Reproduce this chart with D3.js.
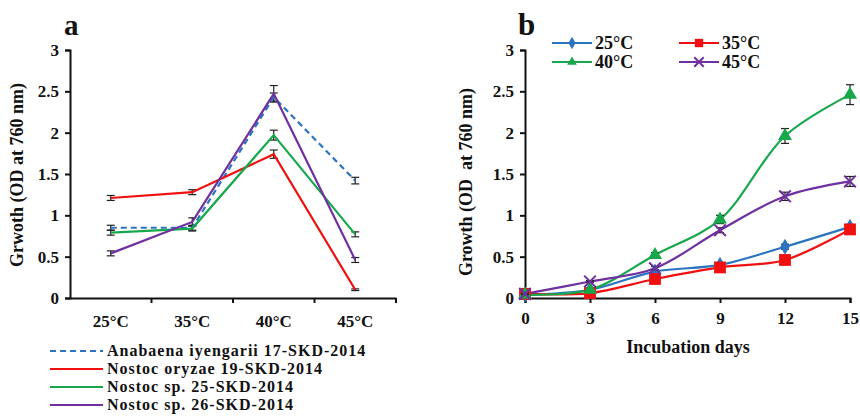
<!DOCTYPE html>
<html>
<head>
<meta charset="utf-8">
<script src="https://cdn.jsdelivr.net/npm/d3@7"></script>
<style>
  body { margin: 0; background: #fff; }
  svg text { font-family: "Liberation Serif", serif !important; font-weight: bold; fill: #111; }
</style>
</head>
<body>
<div id="chart"></div>
<script>
// panel a: growth by temperature for four strains
const temps = ["25°C", "35°C", "40°C", "45°C"];
const strains = ["Anabaena iyengarii 17-SKD-2014", "Nostoc oryzae 19-SKD-2014", "Nostoc sp. 25-SKD-2014", "Nostoc sp. 26-SKD-2014"];
const anabaena = [0.85, 0.85, 2.43, 1.42];
const oryzae = [1.21, 1.28, 1.74, 0.10];
const sp25 = [0.79, 0.84, 1.97, 0.77];
const sp26 = [0.54, 0.92, 2.47, 0.46];
const anabaenaErr = [0.03, 0.03, 0.05, 0.04];
const oryzaeErr = [0.03, 0.03, 0.05, 0.01];
const sp25Err = [0.03, 0.03, 0.06, 0.03];
const sp26Err = [0.03, 0.05, 0.1, 0.03];

// panel b: growth over incubation days at four temperatures
const days = [0, 3, 6, 9, 12, 15];
const t25 = [0.04, 0.10, 0.32, 0.40, 0.62, 0.86];
const t35 = [0.05, 0.06, 0.23, 0.37, 0.46, 0.83];
const t40 = [0.04, 0.10, 0.52, 0.95, 1.96, 2.46];
const t45 = [0.05, 0.20, 0.36, 0.82, 1.23, 1.41];
const t25Err = [0.01, 0.01, 0.02, 0.02, 0.03, 0.03];
const t35Err = [0.01, 0.01, 0.02, 0.02, 0.03, 0.04];
const t40Err = [0.01, 0.01, 0.03, 0.05, 0.09, 0.12];
const t45Err = [0.01, 0.01, 0.02, 0.03, 0.05, 0.06];
const yTicks = [0, 0.5, 1, 1.5, 2, 2.5, 3];

const colors = { blue: "#2a74c0", red: "#f01010", green: "#16a84a", purple: "#7030a0" };
const FONT = "'Liberation Serif', serif";

const svg = d3.select("#chart").append("svg")
  .attr("width", 860)
  .attr("height", 418);

// ---------- panel a ----------
const xa = d3.scaleBand().domain(temps).range([70, 396]);
const ya = d3.scaleLinear().domain([0, 3]).range([298, 50]);

const ga = svg.append("g");

ga.append("text").attr("x", 64).attr("y", 35).style("font-size", "29px").text("a");

ga.append("g").attr("transform", "translate(70,0)")
  .call(d3.axisLeft(ya).tickValues(yTicks).tickFormat(d3.format("")).tickSize(5).tickPadding(6));
const xAxisA = ga.append("g").attr("transform", "translate(0,298)")
  .call(d3.axisBottom(xa).tickSize(0).tickPadding(17));
// tick marks at band boundaries
xAxisA.selectAll(".bound").data(temps).join("line")
  .attr("x1", d => xa(d) + xa.bandwidth()).attr("x2", d => xa(d) + xa.bandwidth())
  .attr("y1", 0).attr("y2", 5).attr("stroke", "#111").attr("stroke-width", 2);

ga.append("text")
  .attr("transform", "translate(23,175) rotate(-90)")
  .attr("text-anchor", "middle")
  .style("font-size", "18px")
  .text("Grwoth (OD at 760 nm)");

const seriesA = [
  { vals: anabaena, err: anabaenaErr, color: colors.blue, dash: "6,4" },
  { vals: oryzae, err: oryzaeErr, color: colors.red, dash: null },
  { vals: sp25, err: sp25Err, color: colors.green, dash: null },
  { vals: sp26, err: sp26Err, color: colors.purple, dash: null }
];

const lineA = d3.line()
  .x((d, i) => xa(temps[i]) + xa.bandwidth() / 2)
  .y(d => ya(d));

seriesA.forEach(s => {
  const eb = ga.append("g");
  s.vals.forEach((v, i) => {
    const cx = xa(temps[i]) + xa.bandwidth() / 2;
    const e = s.err[i];
    eb.append("line").attr("x1", cx).attr("x2", cx).attr("y1", ya(v - e)).attr("y2", ya(v + e)).attr("stroke", "#222").attr("stroke-width", 1.2);
    [v - e, v + e].forEach(c => eb.append("line").attr("x1", cx - 4).attr("x2", cx + 4).attr("y1", ya(c)).attr("y2", ya(c)).attr("stroke", "#222").attr("stroke-width", 1.2));
  });
});
seriesA.forEach(s => {
  ga.append("path").datum(s.vals)
    .attr("d", lineA)
    .attr("fill", "none")
    .attr("stroke", s.color)
    .attr("stroke-width", 2.2)
    .attr("stroke-dasharray", s.dash);
});

// legend a
const legA = ga.append("g");
seriesA.forEach((s, i) => {
  const y = 351 + i * 18;
  legA.append("line").attr("x1", 50).attr("x2", 103).attr("y1", y).attr("y2", y)
    .attr("stroke", s.color).attr("stroke-width", 2.2).attr("stroke-dasharray", s.dash);
  legA.append("text").attr("x", 107).attr("y", y + 5)
    .style("font-size", "16px").style("letter-spacing", "1px").text(strains[i]);
});

// ---------- panel b ----------
const xb = d3.scaleLinear().domain([0, 15]).range([525, 850]);
const yb = d3.scaleLinear().domain([0, 3]).range([298, 50]);

const gb = svg.append("g");
gb.append("text").attr("x", 518).attr("y", 35).style("font-size", "31px").text("b");

gb.append("g").attr("transform", "translate(525,0)")
  .call(d3.axisLeft(yb).tickValues(yTicks).tickFormat(d3.format("")).tickSize(5).tickPadding(6));
gb.append("g").attr("transform", "translate(0,298)")
  .call(d3.axisBottom(xb).tickValues(days).tickSize(5).tickPadding(9));

gb.append("text")
  .attr("transform", "translate(472,182) rotate(-90)")
  .attr("text-anchor", "middle")
  .style("font-size", "18px")
  .style("white-space", "pre")
  .text("Growth (OD  at 760 nm)");

gb.append("text").attr("x", 688).attr("y", 353).attr("text-anchor", "middle")
  .style("font-size", "18px").text("Incubation days");

const tempLabels = ["25°C", "35°C", "40°C", "45°C"];
const seriesB = [
  { vals: t25, err: t25Err, color: colors.blue, sym: d3.symbolDiamond, size: 75, leg: 45 },
  { vals: t35, err: t35Err, color: colors.red, sym: d3.symbolSquare, size: 140, leg: 70 },
  { vals: t40, err: t40Err, color: colors.green, sym: d3.symbolTriangle, size: 85, leg: 40 },
  { vals: t45, err: t45Err, color: colors.purple, sym: d3.symbolX, size: 90, leg: 60 }
];

const lineB = d3.line()
  .x((d, i) => xb(days[i]))
  .y(d => yb(d))
  .curve(d3.curveCatmullRom.alpha(0.5));

seriesB.forEach(s => {
  gb.append("path").datum(s.vals)
    .attr("d", lineB)
    .attr("fill", "none")
    .attr("stroke", s.color)
    .attr("stroke-width", 2.2);
});

const drawSym = (g, s, x, y, size) => {
  const p = g.append("path")
    .attr("transform", `translate(${x},${y})`)
    .attr("d", d3.symbol(s.sym, size)());
  if (s.sym === d3.symbolX) p.attr("fill", "none").attr("stroke", s.color).attr("stroke-width", 2);
  else p.attr("fill", s.color);
};

seriesB.forEach(s => {
  s.vals.forEach((v, i) => {
    const cx = xb(days[i]);
    const e = s.err[i];
    gb.append("line").attr("x1", cx).attr("x2", cx).attr("y1", yb(v - e)).attr("y2", yb(v + e)).attr("stroke", "#222").attr("stroke-width", 1.2);
    [v - e, v + e].forEach(c => gb.append("line").attr("x1", cx - 4).attr("x2", cx + 4).attr("y1", yb(c)).attr("y2", yb(c)).attr("stroke", "#222").attr("stroke-width", 1.2));
    drawSym(gb, s, cx, yb(v), s.size);
  });
});

// legend b
const legB = gb.append("g");
seriesB.forEach((s, i) => {
  const x0 = i % 2 === 0 ? 552 : 679;
  const y = 43 + Math.floor(i / 2) * 19;
  legB.append("line").attr("x1", x0).attr("x2", x0 + 40).attr("y1", y).attr("y2", y)
    .attr("stroke", s.color).attr("stroke-width", 2.2);
  drawSym(legB, s, x0 + 20, y, s.leg);
  legB.append("text").attr("x", x0 + 43).attr("y", y + 6).style("font-size", "18px").text(tempLabels[i]);
});

// axis styling
svg.selectAll(".domain").attr("stroke", "#111").attr("stroke-width", 2);
svg.selectAll(".tick line").attr("stroke", "#111").attr("stroke-width", 2);
svg.selectAll("g").attr("font-family", FONT);
svg.selectAll("text").attr("font-family", FONT).attr("font-weight", "bold");
svg.selectAll(".tick text").style("font-size", "17px").attr("fill", "#111");
</script>
</body>
</html>
